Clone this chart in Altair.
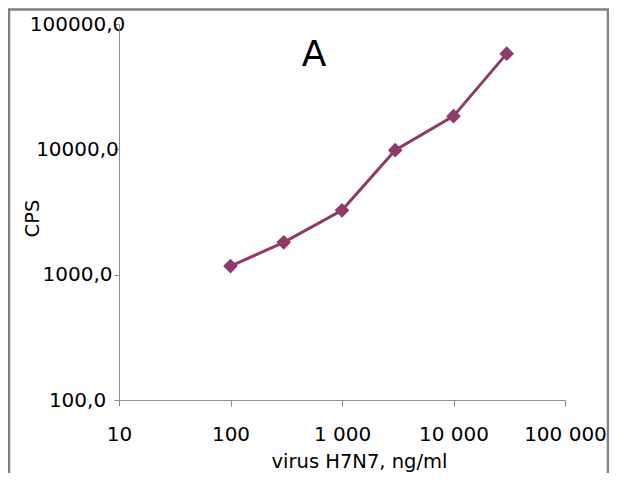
import altair as alt
import pandas as pd

# data
conc = [100, 300, 1000, 3000, 10000, 30000]          # virus H7N7, ng/ml
cps = [1170, 1810, 3260, 9850, 18400, 58000]         # CPS

x_ticks = [10, 100, 1000, 10000, 100000]
x_tick_labels = ["10", "100", "1 000", "10 000", "100 000"]
y_ticks = [100, 1000, 10000, 100000]
y_tick_labels = ["100,0", "1000,0", "10000,0", "100000,0"]

panel_label = "A"
x_title = "virus H7N7, ng/ml"
y_title = "CPS"

FONT = "DejaVu Sans"
FS = 20
COLOR = "#8E3A6A"
GRAY = "#8c8c8c"

W, H = 446, 376


def label_expr(values, labels):
    parts = [f"datum.value == {v} ? '{l}'" for v, l in zip(values, labels)]
    return " : ".join(parts) + " : ''"


df = pd.DataFrame({"conc": conc, "cps": cps})

x_enc = alt.X(
    "conc:Q",
    scale=alt.Scale(type="log", domain=[10, 100000], nice=False),
    axis=alt.Axis(
        values=x_ticks,
        labelExpr=label_expr(x_ticks, x_tick_labels),
        grid=False,
        domainColor=GRAY,
        tickColor=GRAY,
        tickSize=6,
        labelFont=FONT,
        labelFontSize=FS,
        labelColor="#000000",
        labelBaseline="alphabetic",
        labelPadding=34,
        labelFlush=False,
        labelOverlap=False,
        labelBound=False,
        title=x_title,
        titleFont=FONT,
        titleFontSize=19.5,
        titleFontWeight="normal",
        titleColor="#000000",
        titleX=240,
        titleY=67,
        titleAlign="center",
        titleBaseline="alphabetic",
    ),
)

y_enc = alt.Y(
    "cps:Q",
    scale=alt.Scale(type="log", domain=[100, 100000], nice=False),
    axis=alt.Axis(
        values=y_ticks,
        labelExpr=label_expr(y_ticks, y_tick_labels),
        grid=False,
        domainColor=GRAY,
        tickColor=GRAY,
        tickSize=5,
        labelFont=FONT,
        labelFontSize=FS,
        labelColor="#000000",
        labelAlign="center",
        labelBaseline="middle",
        labelPadding=37,
        labelFlush=False,
        labelOverlap=False,
        labelBound=False,
        title=y_title,
        titleFont=FONT,
        titleFontSize=19.5,
        titleFontWeight="normal",
        titleColor="#000000",
        titleAngle=270,
        titleX=-87,
        titleY=194,
        titleAlign="center",
        titleBaseline="middle",
    ),
)

base = alt.Chart(df)

line = base.mark_line(color=COLOR, strokeWidth=3).encode(x=x_enc, y=y_enc)
points = base.mark_point(
    shape="diamond", filled=True, color=COLOR, size=215, opacity=1
).encode(x="conc:Q", y="cps:Q")

frame = alt.Chart(pd.DataFrame({"k": [0]})).mark_rect(
    fill=None, stroke="#808080", strokeWidth=2.5
).encode(
    x=alt.value(-110),
    x2=alt.value(489),
    y=alt.value(-14.5),
    y2=alt.value(480),
)

label_a = alt.Chart(pd.DataFrame({"t": [panel_label]})).mark_text(
    font=FONT, fontSize=36, color="#000000", align="center", baseline="alphabetic"
).encode(
    text="t:N",
    x=alt.value(195),
    y=alt.value(41.5),
)

chart = (
    alt.layer(frame, line, points, label_a)
    .properties(
        width=W,
        height=H,
        padding={"left": 111, "top": 16, "right": 44, "bottom": 73},
        autosize=alt.AutoSizeParams(type="none"),
    )
    .configure_view(stroke=None)
)

chart.save("out.html", embed_options={"renderer": "svg", "actions": False})
